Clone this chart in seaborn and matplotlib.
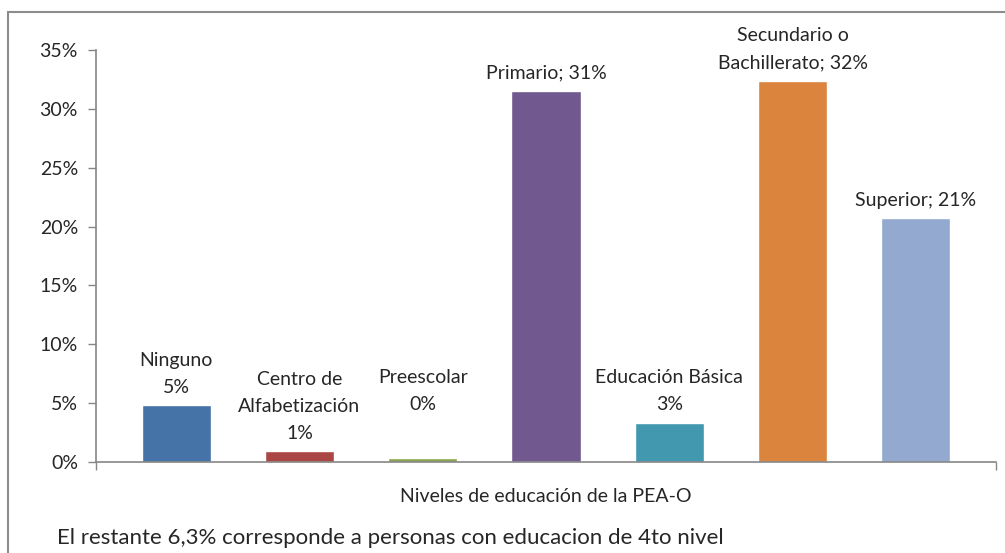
import matplotlib
matplotlib.use("Agg")
import matplotlib.pyplot as plt
import seaborn as sns
import pandas as pd
from matplotlib.patches import Rectangle
from matplotlib.ticker import PercentFormatter

# data (percent of PEA-O)
categories = ["Ninguno", "Centro de Alfabetización", "Preescolar", "Primario",
              "Educación Básica", "Secundario o Bachillerato", "Superior"]
values = [4.8, 0.9, 0.3, 31.5, 3.3, 32.4, 20.7]
labels = ["Ninguno\n5%", "Centro de\nAlfabetización\n1%", "Preescolar\n0%",
          "Primario; 31%", "Educación Básica\n3%", "Secundario o\nBachillerato; 32%",
          "Superior; 21%"]
colors = ["#4572A7", "#AA4643", "#89A54E", "#71588F", "#4198AF", "#DB843D", "#93A9CF"]
y_ticks = [0, 5, 10, 15, 20, 25, 30, 35]

# label offsets above each bar, in points (Excel placed Preescolar higher)
label_offsets = [7, 7, 33, 7, 7, 7, 7]

sns.set_style("white")
plt.rcParams["font.family"] = ["Lato", "DejaVu Sans"]

df = pd.DataFrame({"nivel": categories, "pct": values})

fig = plt.figure(figsize=(10.05, 5.53), dpi=100)
ax = fig.add_axes([96 / 1005, 1 - 462 / 553, 900 / 1005, 412 / 553])

sns.barplot(data=df, x="nivel", y="pct", hue="nivel", palette=colors,
            legend=False, width=0.56, saturation=1, ax=ax)

for i, (v, lab) in enumerate(zip(values, labels)):
    ax.annotate(lab, (i, v), xytext=(0, label_offsets[i]), textcoords="offset points",
                ha="center", va="bottom", fontsize=14, linespacing=1.72)

ax.set_ylim(0, 35)
ax.set_xlim(-0.65, 6.65)
ax.set_yticks(y_ticks)
ax.yaxis.set_major_formatter(PercentFormatter(decimals=0))
ax.set_xticks([-0.65, 6.65])
ax.set_xticklabels(["", ""])
ax.tick_params(axis="y", direction="out", length=6, width=1, color="#868686",
               labelsize=14, pad=7, left=True)
ax.tick_params(axis="x", direction="out", length=6, width=1, color="#868686", bottom=True)
ax.set_xlabel("Niveles de educación de la PEA-O", fontsize=14, labelpad=9)
ax.set_ylabel("")

for side in ["top", "right"]:
    ax.spines[side].set_visible(False)
for side in ["left", "bottom"]:
    ax.spines[side].set_color("#868686")
    ax.spines[side].set_linewidth(1.2)

# outer chart frame (runs off the right and bottom edges)
fig.patches.append(Rectangle((7.5 / 1005, -0.1), 1.2, 1 - 12 / 553 + 0.1,
                             transform=fig.transFigure, fill=False,
                             edgecolor="#8c8c8c", linewidth=1.5))

fig.text(57 / 1005, 1 - 538 / 553, "El restante 6,3% corresponde a personas con educacion de 4to nivel",
         fontsize=16, va="center", ha="left")

fig.savefig("out.png", dpi=100)
